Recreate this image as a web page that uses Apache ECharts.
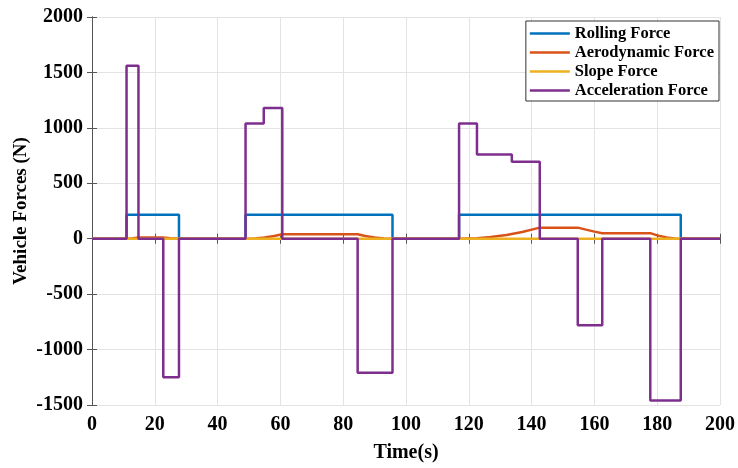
<!DOCTYPE html>
<html>
<head>
<meta charset="utf-8">
<script src="https://cdn.jsdelivr.net/npm/echarts@6/dist/echarts.min.js"></script>
<style>html,body{margin:0;padding:0;background:#fff}#c{width:738px;height:468px}</style>
</head>
<body>
<div id="c"></div>
<script>
const seriesNames = ['Rolling Force', 'Aerodynamic Force', 'Slope Force', 'Acceleration Force'];
const xTicks = [0, 20, 40, 60, 80, 100, 120, 140, 160, 180, 200];
const yTicks = [-1500, -1000, -500, 0, 500, 1000, 1500, 2000];

const rollingT = [0, 11, 11, 27.7, 27.7, 48.9, 48.9, 95.7, 95.7, 116.9, 116.9, 187.5, 187.5, 200];
const rollingF = [0, 0, 217, 217, 0, 0, 217, 217, 0, 0, 217, 217, 0, 0];

const aeroT = [0, 11, 12.5, 14.8, 22.7, 25, 27.7, 48.9, 52, 55, 58, 60.6, 84.6, 87, 90, 93, 95.7,
  116.9, 122.6, 127, 132, 137, 142.6, 154.7, 157, 160, 162.5, 177.8, 180, 183, 185.5, 187.5, 200];
const aeroF = [0, 0, 3, 10, 10, 4, 0, 0, 3, 11, 24, 40, 40, 24, 11, 3, 0,
  0, 5, 15, 34, 61, 100, 100, 84, 64, 50, 50, 30, 11, 2, 0, 0];

const slopeT = [0, 200];
const slopeF = [0, 0];

const accelT = [0, 11, 11, 14.8, 14.8, 22.7, 22.7, 27.7, 27.7, 48.9, 48.9, 54.7, 54.7, 60.6, 60.6,
  84.6, 84.6, 95.7, 95.7, 116.9, 116.9, 122.6, 122.6, 133.7, 133.7, 142.6, 142.6, 154.7, 154.7,
  162.5, 162.5, 177.8, 177.8, 187.5, 187.5, 200];
const accelF = [0, 0, 1560, 1560, 0, 0, -1250, -1250, 0, 0, 1040, 1040, 1180, 1180, 0,
  0, -1210, -1210, 0, 0, 1040, 1040, 760, 760, 695, 695, 0, 0, -780,
  -780, 0, 0, -1460, -1460, 0, 0];

const colors = ['#0072BD', '#D95319', '#EDB120', '#7E2F8E'];
const pairs = (t, f) => t.map((v, i) => [v, f[i]]);
const font = 'Liberation Serif';

const chart = echarts.init(document.getElementById('c'));
const axisLine = { show: true, lineStyle: { color: '#555', width: 1 } };
const tick = { show: true, inside: true, length: 5, lineStyle: { color: '#555' } };
const labelStyle = { fontFamily: font, fontWeight: 'bold', fontSize: 20, color: '#000' };
chart.setOption({
  animation: false,
  color: colors,
  grid: { left: 92, right: 17, top: 17, bottom: 58 },
  legend: {
    data: seriesNames.map(n => ({ name: n, icon: 'rect' })),
    orient: 'vertical',
    right: 19, top: 21,
    backgroundColor: '#fff',
    borderColor: '#333', borderWidth: 1,
    padding: [4, 5, 2, 4],
    itemWidth: 40, itemHeight: 2.5, itemGap: 2,
    textStyle: { fontFamily: font, fontWeight: 'bold', fontSize: 16.5, color: '#000', lineHeight: 16 }
  },
  xAxis: [{
    type: 'value', min: 0, max: 200, interval: 20,
    name: 'Time(s)', nameLocation: 'middle', nameGap: 38, nameMoveOverlap: false,
    nameTextStyle: { fontFamily: font, fontWeight: 'bold', fontSize: 20, color: '#000' },
    axisLine: axisLine, axisTick: tick,
    axisLabel: Object.assign({ margin: 10, formatter: v => String(v) }, labelStyle),
    splitLine: { show: true, lineStyle: { color: '#e3e3e3' } }
  }, {
    type: 'value', min: 0, max: 200, interval: 20, position: 'top',
    axisLine: axisLine, axisTick: tick, axisLabel: { show: false }, splitLine: { show: false }
  }],
  yAxis: [{
    type: 'value', min: -1500, max: 2000, interval: 500,
    name: 'Vehicle Forces (N)', nameLocation: 'middle', nameGap: 61, nameMoveOverlap: false,
    nameTextStyle: { fontFamily: font, fontWeight: 'bold', fontSize: 19, color: '#000' },
    axisLine: axisLine, axisTick: tick,
    axisLabel: Object.assign({ margin: 9, formatter: v => String(v) }, labelStyle),
    splitLine: { show: true, lineStyle: { color: '#e3e3e3' } }
  }, {
    type: 'value', min: -1500, max: 2000, interval: 500, position: 'right',
    axisLine: axisLine, axisTick: tick, axisLabel: { show: false }, splitLine: { show: false }
  }],
  series: [
    { name: seriesNames[0], type: 'line', symbol: 'none', data: pairs(rollingT, rollingF), lineStyle: { width: 2.5 } },
    { name: seriesNames[1], type: 'line', symbol: 'none', data: pairs(aeroT, aeroF), lineStyle: { width: 2.5 } },
    { name: seriesNames[2], type: 'line', symbol: 'none', data: pairs(slopeT, slopeF), lineStyle: { width: 2.5 } },
    { name: seriesNames[3], type: 'line', symbol: 'none', data: pairs(accelT, accelF), lineStyle: { width: 2.5 } }
  ]
});
</script>
</body>
</html>
